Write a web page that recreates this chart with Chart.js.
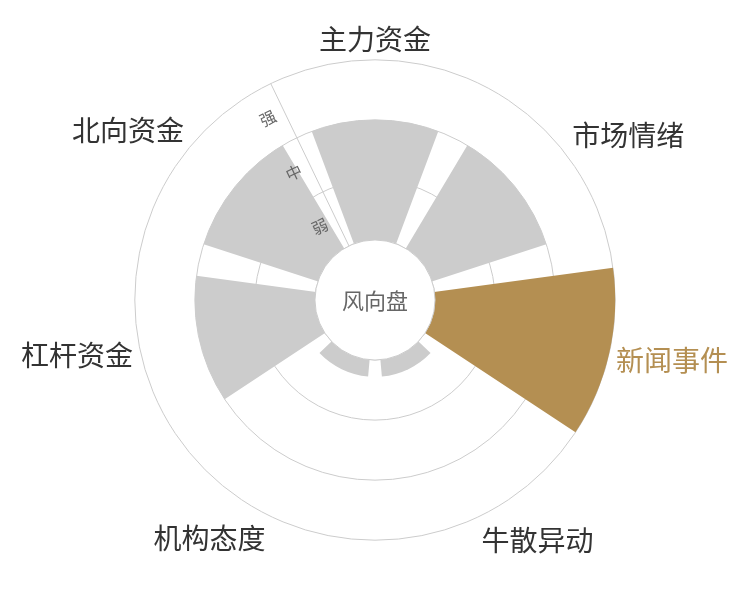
<!DOCTYPE html>
<html>
<head>
<meta charset="utf-8">
<script src="https://cdn.jsdelivr.net/npm/chart.js@4"></script>
<style>
  html, body { margin: 0; padding: 0; background: #fff; }
  canvas { display: block; }
</style>
</head>
<body>
<canvas id="chart" width="750" height="600"></canvas>
<script>
// categories clockwise from the top
const categories = ['主力资金', '市场情绪', '新闻事件', '牛散异动', '机构态度', '杠杆资金', '北向资金'];
// strength of each factor (0 = hole edge, 1 弱, 2 中, 3 强)
const strength = [2, 2, 3, 0.28, 0.28, 2, 2];
const levelLabels = ['弱', '中', '强'];
const highlighted = '新闻事件';
const centerTitle = '风向盘';

const GOLD = '#b48f52';
const GREY = '#cccccc';
const LINE = '#cccccc';
const NONE = 'rgba(0,0,0,0)';
const FONT = '"Noto Sans CJK SC", sans-serif';
const R_MIN = -1;   // value at the centre, so 0 sits on the hole edge
const R_MAX = 3;

// per-label nudges so the names sit where the original put them
// (chart.js already adds 10px of tick backdrop on top of this padding)
const labelPad = [-5, 2, -3, -5, 2, -2, -6];
const labelLine = [1.1, 0.5, 0.36, 1.4, 0.78, 0.02, 1.23];

// each category gets a slot; the wedge fills 80% of it, rest is the gap
const slot = 360 / categories.length;
const gap = slot * 0.2;
const values = [R_MIN];
const angles = [gap / 2];
const colors = [NONE];
strength.forEach((v, i) => {
  values.push(v);
  angles.push(slot - gap);
  colors.push(categories[i] === highlighted ? GOLD : GREY);
  values.push(R_MIN);
  angles.push(i === strength.length - 1 ? gap / 2 : gap);
  colors.push(NONE);
});

// white hole in the middle with the title
const holePlugin = {
  id: 'hole',
  afterDatasetsDraw(chart) {
    const r = chart.scales.r;
    const ctx = chart.ctx;
    const rad = r.getDistanceFromCenterForValue(0);
    ctx.save();
    ctx.beginPath();
    ctx.arc(r.xCenter, r.yCenter, rad, 0, Math.PI * 2);
    ctx.fillStyle = '#fff';
    ctx.fill();
    ctx.lineWidth = 1;
    ctx.strokeStyle = LINE;
    ctx.stroke();
    ctx.fillStyle = '#666';
    ctx.font = '22px ' + FONT;
    ctx.textAlign = 'center';
    ctx.textBaseline = 'middle';
    ctx.fillText(centerTitle, r.xCenter, r.yCenter + 1);
    ctx.restore();
  }
};

const tickFont = { size: 16, family: FONT };
const pointFont = ctx => ({ size: 28, family: FONT, lineHeight: labelLine[ctx.index] });
const pointPad = ctx => labelPad[ctx.index];

new Chart(document.getElementById('chart'), {
  type: 'polarArea',
  data: {
    labels: categories,
    datasets: [{
      rAxisID: 'r',
      data: values,
      backgroundColor: colors,
      hoverBackgroundColor: colors,
      borderWidth: 0,
      angle: ctx => angles[ctx.dataIndex]
    }]
  },
  options: {
    responsive: false,
    animation: false,
    layout: { padding: { top: 16, bottom: 32, left: 0, right: 0 } },
    plugins: {
      legend: { display: false },
      tooltip: { enabled: false }
    },
    scales: {
      // rings, axis line and category names, under the wedges
      r: {
        min: R_MIN,
        max: R_MAX,
        startAngle: -slot / 2,
        grid: {
          circular: true,
          lineWidth: 1,
          color: ctx => (ctx.tick.value >= 0 && Number.isInteger(ctx.tick.value)) ? LINE : NONE
        },
        angleLines: {
          display: true,
          color: ctx => ctx.index === 0 ? LINE : NONE
        },
        ticks: {
          stepSize: 0.5,
          showLabelBackdrop: false,
          color: NONE,
          font: tickFont
        },
        pointLabels: {
          display: true,
          centerPointLabels: true,
          padding: pointPad,
          color: ctx => ctx.label === highlighted ? GOLD : '#333',
          font: pointFont
        }
      },
      // level names 弱/中/强, drawn above the wedges
      r2: {
        type: 'radialLinear',
        min: R_MIN,
        max: R_MAX,
        startAngle: -slot / 2,
        grid: { display: false },
        angleLines: { display: false },
        ticks: {
          z: 1,
          stepSize: 0.5,
          showLabelBackdrop: false,
          color: '#666',
          font: tickFont,
          callback: v => {
            const k = v - 0.5;
            return (Number.isInteger(k) && k >= 0 && k < levelLabels.length) ? levelLabels[k] + '\u3000\u3000 ' : '';
          }
        },
        pointLabels: {
          display: true,
          centerPointLabels: true,
          padding: pointPad,
          color: NONE,
          font: pointFont
        }
      }
    }
  },
  plugins: [holePlugin]
});
</script>
</body>
</html>
